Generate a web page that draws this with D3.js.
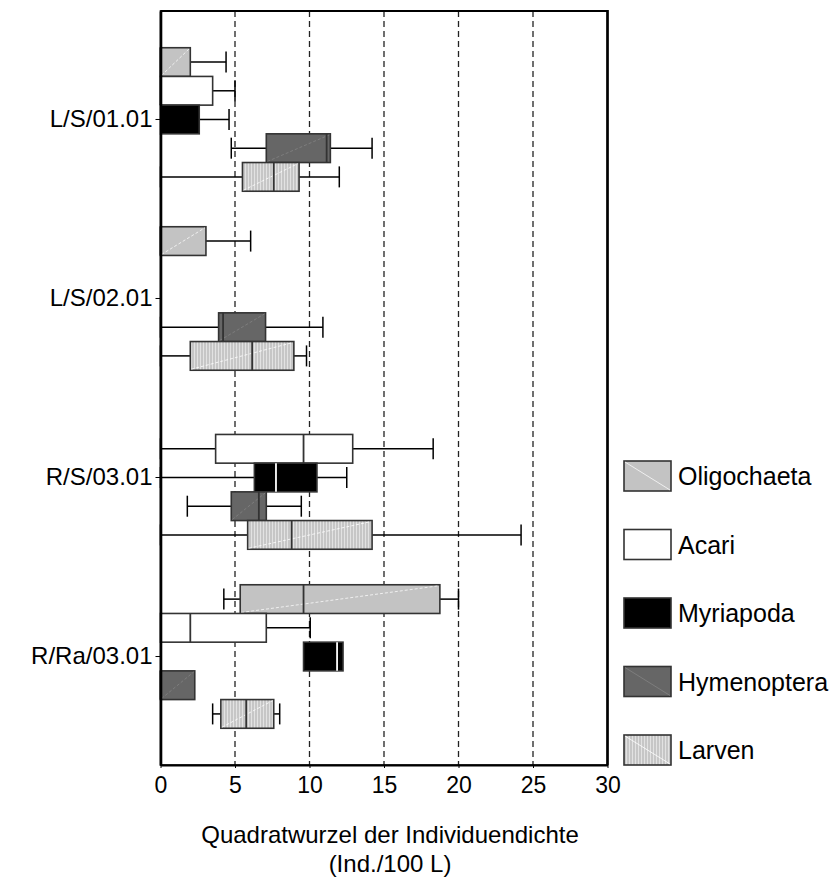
<!DOCTYPE html>
<html>
<head>
<meta charset="utf-8">
<script src="https://cdn.jsdelivr.net/npm/d3@7"></script>
<style>
  body { margin: 0; background: #fff; }
  text { font-family: "Liberation Sans", Arial, sans-serif; fill: #000; }
</style>
</head>
<body>
<script>
// sites and taxa
var categories = ["L/S/01.01", "L/S/02.01", "R/S/03.01", "R/Ra/03.01"];
var species = ["Oligochaeta", "Acari", "Myriapoda", "Hymenoptera", "Larven"];
var xTicks = [0, 5, 10, 15, 20, 25, 30];

// box plot stats, [site][taxon], null = no data
var whiskerLow = [[0, 0, 0, 4.75, 0], [0, null, null, 0, 0], [null, 0, 0, 1.8, 0], [4.25, 0, 9.6, 0, 3.5]];
var q1 = [[0, 0, 0, 7.1, 5.5], [0, null, null, 3.9, 2.0], [null, 3.7, 6.3, 4.75, 5.85], [5.35, 0, 9.6, 0, 4.05]];
var median = [[0, 0, 0, 11.15, 7.6], [0, null, null, 4.2, 6.15], [null, 9.6, 7.75, 6.6, 8.8], [9.6, 2.0, 11.85, 0, 5.75]];
var q3 = [[2.0, 3.5, 2.6, 11.4, 9.3], [3.05, null, null, 7.05, 8.95], [null, 12.9, 10.5, 7.1, 14.2], [18.75, 7.1, 12.25, 2.3, 7.6]];
var whiskerHigh = [[4.4, 5.0, 4.6, 14.2, 12.0], [6.05, null, null, 10.9, 9.8], [null, 18.3, 12.5, 9.45, 24.2], [20.0, 10.05, 12.25, 2.3, 8.0]];

var fills = {"Oligochaeta": "#c3c3c3", "Acari": "#ffffff", "Myriapoda": "#000000", "Hymenoptera": "#666666", "Larven": "url(#stripes)"};
var baseFill = {"Oligochaeta": "#c3c3c3", "Acari": "#ffffff", "Myriapoda": "#000000", "Hymenoptera": "#666666", "Larven": "#c8c8c8"};

var w = 834, h = 882;
var plotL = 160.5, plotR = 607.5, plotT = 11, plotB = 765;

var svg = d3.select("body").append("svg")
  .attr("width", w)
  .attr("height", h);

// vertical stripe fill for Larven
var pat = svg.append("defs").append("pattern")
  .attr("id", "stripes")
  .attr("patternUnits", "userSpaceOnUse")
  .attr("width", 3).attr("height", 10);
pat.append("rect").attr("width", 3).attr("height", 10).attr("fill", "#c6c6c6");
pat.append("rect").attr("x", 2).attr("width", 1).attr("height", 10).attr("fill", "#e2e2e2");

// scales
var x = d3.scaleLinear().domain([0, 30]).range([plotL, plotR]);
var y = d3.scaleBand().domain(categories).range([plotT, plotB]).paddingInner(0).paddingOuter(0.106);
var slotH = 28.7;
var ySub = d3.scaleBand().domain(species).range([-2.5 * slotH, 2.5 * slotH]);

// dashed grid
svg.append("g").selectAll("line")
  .data(xTicks.filter(function (t) { return t > 0 && t < 30; }))
  .enter().append("line")
  .attr("x1", function (d) { return x(d); })
  .attr("x2", function (d) { return x(d); })
  .attr("y1", plotT).attr("y2", plotB)
  .attr("stroke", "#222")
  .attr("stroke-width", 1.3)
  .attr("stroke-dasharray", "6,4");

// boxes
var rows = [];
categories.forEach(function (c, i) {
  species.forEach(function (s, j) {
    if (q1[i][j] === null) return;
    rows.push({cat: c, sp: s, lo: whiskerLow[i][j], q1: q1[i][j], med: median[i][j], q3: q3[i][j], hi: whiskerHigh[i][j]});
  });
});

var g = svg.append("g").selectAll("g")
  .data(rows)
  .enter().append("g")
  .attr("transform", function (d) {
    return "translate(0," + (y(d.cat) + y.bandwidth() / 2 + ySub(d.sp)) + ")";
  });

var bh = ySub.bandwidth();
var cap = 21;

function whisker(sel, from, to) {
  sel.append("line")
    .attr("x1", function (d) { return x(from(d)); })
    .attr("x2", function (d) { return x(to(d)); })
    .attr("y1", bh / 2).attr("y2", bh / 2)
    .attr("stroke", "#000").attr("stroke-width", 1.5);
  sel.append("line")
    .attr("x1", function (d) { return x(to(d)); })
    .attr("x2", function (d) { return x(to(d)); })
    .attr("y1", bh / 2 - cap / 2).attr("y2", bh / 2 + cap / 2)
    .attr("stroke", "#000").attr("stroke-width", 1.5);
}

whisker(g.filter(function (d) { return d.lo < d.q1; }), function (d) { return d.q1; }, function (d) { return d.lo; });
whisker(g.filter(function (d) { return d.hi > d.q3; }), function (d) { return d.q3; }, function (d) { return d.hi; });

g.append("rect")
  .attr("x", function (d) { return x(d.q1); })
  .attr("width", function (d) { return x(d.q3) - x(d.q1); })
  .attr("y", 0)
  .attr("height", bh)
  .attr("fill", function (d) { return fills[d.sp]; })
  .attr("stroke", "#333")
  .attr("stroke-width", 1.6);

// faint diagonal sheen
g.filter(function (d) { return d.sp !== "Acari"; }).append("line")
  .attr("x1", function (d) { return x(d.q1) + 1; })
  .attr("x2", function (d) { return x(d.q3) - 1; })
  .attr("y1", bh - 1).attr("y2", 1)
  .attr("stroke", function (d) { return d3.color(baseFill[d.sp]).brighter(0.7); })
  .attr("stroke-width", 0.8)
  .attr("stroke-dasharray", "3,2");

g.append("line")
  .attr("x1", function (d) { return x(d.med); })
  .attr("x2", function (d) { return x(d.med); })
  .attr("y1", 0).attr("y2", bh)
  .attr("stroke", function (d) { return d.sp === "Myriapoda" ? "#fff" : "#333"; })
  .attr("stroke-width", 1.8);

// frame
svg.append("rect")
  .attr("x", plotL).attr("y", plotT)
  .attr("width", plotR - plotL).attr("height", plotB - plotT)
  .attr("fill", "none")
  .attr("stroke", "#000")
  .attr("stroke-width", 1.6);
svg.append("line")
  .attr("x1", plotL).attr("x2", plotR).attr("y1", plotT).attr("y2", plotT)
  .attr("stroke", "#000").attr("stroke-width", 2);
svg.append("line")
  .attr("x1", plotR).attr("x2", plotR).attr("y1", plotT - 1).attr("y2", plotB)
  .attr("stroke", "#000").attr("stroke-width", 2.6);

// axes
var xAxis = svg.append("g")
  .attr("transform", "translate(0," + plotB + ")")
  .call(d3.axisBottom(x).tickValues(xTicks).tickSizeInner(3).tickSizeOuter(0).tickPadding(9));
xAxis.select(".domain").attr("stroke-width", 2.2);
xAxis.selectAll("text").style("font-size", "23px").attr("font-family", "Liberation Sans, Arial, sans-serif");

var yAxis = svg.append("g")
  .attr("transform", "translate(" + plotL + ",0)")
  .call(d3.axisLeft(y).tickSizeInner(5).tickSizeOuter(0).tickPadding(3));
yAxis.select(".domain").attr("stroke-width", 2.6);
yAxis.selectAll("text").style("font-size", "24px").attr("font-family", "Liberation Sans, Arial, sans-serif");

// axis title
svg.append("text")
  .attr("x", 390).attr("y", 843)
  .attr("text-anchor", "middle")
  .style("font-size", "24px")
  .text("Quadratwurzel der Individuendichte");
svg.append("text")
  .attr("x", 390).attr("y", 872)
  .attr("text-anchor", "middle")
  .style("font-size", "24px")
  .text("(Ind./100 L)");

// legend
var legY = d3.scalePoint().domain(species).range([476, 750]);
var leg = svg.append("g").selectAll("g")
  .data(species)
  .enter().append("g")
  .attr("transform", function (d) { return "translate(624," + legY(d) + ")"; });

leg.append("rect")
  .attr("x", 0).attr("y", -15)
  .attr("width", 47).attr("height", 30)
  .attr("fill", function (d) { return fills[d]; })
  .attr("stroke", "#333")
  .attr("stroke-width", 1.6);
leg.filter(function (d) { return d !== "Acari"; }).append("line")
  .attr("x1", 1).attr("y1", -14).attr("x2", 46).attr("y2", 14)
  .attr("stroke", function (d) { return d3.color(baseFill[d]).brighter(0.7); })
  .attr("stroke-width", 0.8);
leg.append("text")
  .attr("x", 54).attr("y", 0)
  .attr("dy", "0.36em")
  .style("font-size", "25px")
  .text(function (d) { return d; });
</script>
</body>
</html>
